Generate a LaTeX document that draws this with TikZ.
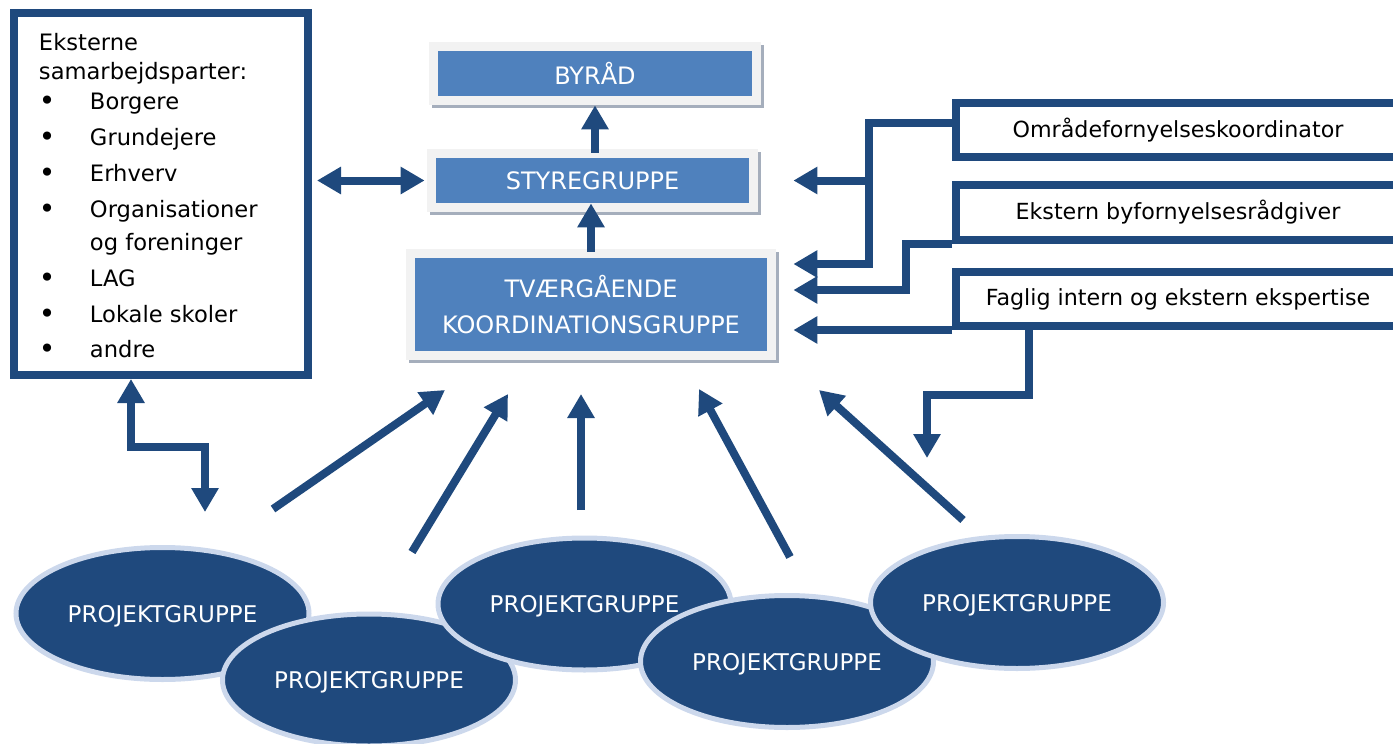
\documentclass[tikz,border=0pt]{standalone}
\usepackage{fontspec}
\setmainfont{DejaVu Sans}
\usetikzlibrary{arrows.meta,shapes.geometric}
\definecolor{navy}{RGB}{31,73,125}
\definecolor{boxblue}{RGB}{79,129,189}
\definecolor{framegray}{RGB}{242,242,242}
\definecolor{shadowgray}{RGB}{165,174,188}
\definecolor{rimblue}{RGB}{204,216,236}
\newcommand{\dotmark}{\raisebox{-0.6pt}{\fontsize{14}{0}\selectfont•}}
\tikzset{
link/.style={draw=navy, line width=4pt, >={Triangle[length=12pt,width=13pt]}, ->},
partnerbox/.style={draw=navy, line width=4pt, minimum width=147pt, minimum height=181pt,
  inner xsep=12.5pt, inner ysep=0pt, font=\fontsize{11.3}{14.5}\selectfont},
orgbox/.style={fill=boxblue, text=white, align=center, inner sep=0pt,
  font=\fontsize{12}{18}\selectfont,
  preaction={draw=shadowgray, line width=9pt, transform canvas={shift={(1.5pt,-1.5pt)}}},
  preaction={draw=framegray, line width=9pt}},
rolebox/.style={draw=navy, line width=4pt, minimum width=222pt, minimum height=27pt,
  inner sep=0pt, font=\fontsize{11.1}{13}\selectfont},
projgroup/.style={ellipse, fill=navy, draw=rimblue, line width=2.5pt, minimum width=146.5pt,
  minimum height=66pt, inner sep=0pt, text=white, text depth=0pt, font=\fontsize{11.5}{13}\selectfont}
}
\begin{document}
\begin{tikzpicture}[x=0.5pt, y=-0.5pt]
\clip (0,0) rectangle (1393,744);

% external partners
\node[partnerbox] (partners) at (161,194) {%
\begin{tabular}{@{}p{25.5pt}@{}p{96.5pt}@{}}
\multicolumn{2}{@{}l@{}}{\rule{0pt}{14.15pt}Eksterne}\\
\multicolumn{2}{@{}l@{}}{samarbejdsparter:}\\[0.5pt]
\dotmark&Borgere\\[3.5pt]
\dotmark&Grundejere\\[3.5pt]
\dotmark&Erhverv\\[3.5pt]
\dotmark&Organisationer\\[2pt]
&og foreninger\\[3.5pt]
\dotmark&LAG\\[3.5pt]
\dotmark&Lokale skoler\\[3pt]
\dotmark&andre
\end{tabular}};

% organisation
\node[orgbox, minimum width=157pt, minimum height=22.5pt] (byraad) at (595,73.5) {BYRÅD};
\node[orgbox, minimum width=156.5pt, minimum height=22.5pt] (styre) at (592.5,180.5) {STYREGRUPPE};
\node[orgbox, minimum width=176pt, minimum height=46.5pt] (koord) at (591,304.5) {TVÆRGÅENDE\\KOORDINATIONSGRUPPE};

\node[rolebox] (omraade) at (1178,130) {Områdefornyelseskoordinator};
\node[rolebox, minimum height=27.5pt] (ekstern) at (1178,212.5) {Ekstern byfornyelsesrådgiver};
\node[rolebox] (faglig) at (1178,299) {Faglig intern og ekstern ekspertise};

% project groups, each one on top of the one before
\foreach \i/\px/\py in {1/162.5/613.5, 2/369/680, 3/584.5/604, 4/787/661.5, 5/1017/602.5}{
  \node[projgroup] (pg\i) at (\px,\py) {PROJEKTGRUPPE};
}

\draw[link, shorten <=2.5pt, shorten >=4.5pt] (styre.north -| byraad.south) -- (byraad.south);
\draw[link, shorten <=3pt] (koord.north) -- (koord.north |- styre.south);
\draw[link, <->, shorten <=2.5pt, shorten >=5.5pt] (partners.east |- styre.west) -- (styre.west);

\coordinate (partnersend) at (205,512);
\draw[link, <->] ([xshift=-15pt]partners.south) -- ++(0,68) -| (partnersend);

\draw[link] ([yshift=3.5pt]omraade.west) -- ++(-83,0) coordinate (omrsplit)
  |- ([xshift=13pt,yshift=20.25pt]koord.east);
\draw[link] (omrsplit |- styre.east) -- ([xshift=22pt]styre.east);
\draw[link] (ekstern.south west) -- ++(-46,0) |- ([xshift=13pt,yshift=7.25pt]koord.east);
\draw[link, shorten >=13pt] (faglig.south west) -- (faglig.south west -| koord.east);
\coordinate (fagligend) at (927,458);
\draw[link] ([xshift=38.5pt]faglig.south west) -- ++(0,65) -| (fagligend);

% arrows from the project groups
\foreach \i/\xa/\ya/\xb/\yb in {1/273/509/445/390, 2/412/552/508/394, 3/581/510/581/394, 4/790/557/699/389, 5/963/520/819/390}{
  \coordinate (up\i) at (\xa,\ya);
  \coordinate (tip\i) at (\xb,\yb);
  \draw[link] (up\i) -- (tip\i);
}
\end{tikzpicture}
\end{document}
